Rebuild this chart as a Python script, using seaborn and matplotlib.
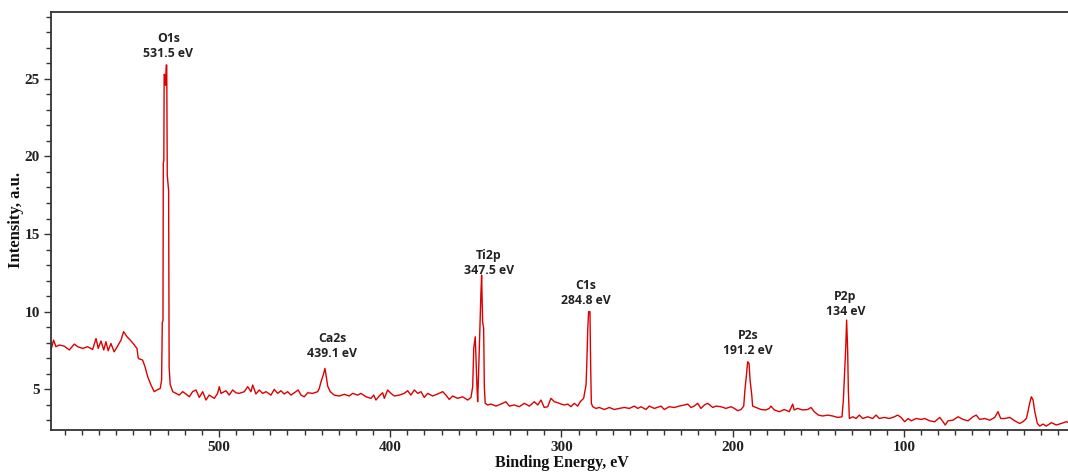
import matplotlib
matplotlib.use("Agg")
import matplotlib.pyplot as plt
from matplotlib.ticker import MultipleLocator
import seaborn as sns
import pandas as pd

# ---- data (binding energy in eV, intensity in a.u.) ----
energy = [
    598.1, 596.6, 595.2, 593.3, 590.4, 587.4, 584.5, 582.5, 579.6, 576.7, 573.8, 571.8,
    570.5, 568.9, 567.3, 566.0, 564.7, 563.1, 561.2, 559.2, 557.2, 555.7, 553.7, 551.8,
    549.8, 547.9, 547.1, 544.6, 543.2, 541.6, 539.7, 537.8, 536.2, 534.3, 533.5,
    533.1, 532.7, 532.5, 532.2, 532.0, 531.5, 531.2, 530.8, 530.5, 530.2, 529.4, 529.1, 528.5,
    527.0, 525.1, 523.2, 521.2, 519.3, 517.3, 515.4, 513.4, 511.5, 509.5, 507.6, 505.7,
    502.7, 500.8, 499.8, 498.8,
    495.9, 494.0, 492.0, 490.1, 488.1, 485.2, 483.2, 481.3, 480.3, 478.4, 476.5, 474.5,
    472.5, 469.6, 467.7, 465.7, 463.8, 461.9, 459.9, 457.9, 456.0, 453.7, 452.1, 450.2,
    448.2, 445.3, 442.3, 441.4, 440.4, 439.1, 438.1, 437.3, 436.5, 435.0, 432.7, 429.7,
    426.8, 423.9, 421.9, 419.0, 417.1, 414.1, 411.2, 409.6, 408.3, 406.4, 404.4, 403.4,
    401.5, 399.5,
    397.6, 394.7, 391.8, 389.8, 387.9, 385.9, 383.9, 382.0, 380.1, 378.1, 375.2, 372.3,
    369.3, 367.4, 365.5, 363.5, 360.6, 357.7, 354.7, 352.8, 351.8, 351.2, 350.3, 349.3,
    348.9, 348.3, 347.5, 347.0, 346.6, 346.0, 345.4, 345.0, 344.5, 343.1, 341.1, 338.2,
    335.3, 332.4, 330.4, 327.5, 324.6, 321.7, 318.7, 315.8, 313.8, 311.9, 310.0, 308.0,
    306.1, 304.1, 302.2, 300.2,
    298.3, 296.3, 294.4, 292.5, 290.5, 289.0, 287.0, 285.6, 285.2, 284.6, 284.1, 283.3,
    282.9, 282.5, 281.7, 279.8, 277.9, 274.9, 272.0, 269.1, 266.2, 263.3, 260.3, 257.4,
    255.4, 253.5, 250.6, 248.7, 245.7, 241.8, 239.9, 237.0, 234.1, 231.1, 228.2, 226.2,
    224.3, 222.4, 220.4, 218.5, 216.5, 214.5, 211.6, 209.7, 206.8, 203.9, 200.9,
    199.0, 197.0, 195.1, 193.5, 192.8, 192.0, 191.2, 190.4, 189.8, 188.8, 188.3, 186.3,
    183.4, 180.5, 178.6, 177.6, 175.6, 172.7, 169.8, 166.9, 164.9, 164.0, 162.0, 159.1,
    156.1, 154.2, 152.3, 149.9, 147.4, 144.5, 141.5, 138.6, 136.1, 135.3, 134.5, 133.9,
    133.4, 132.8, 132.4, 131.8, 129.8, 127.9, 126.0, 124.0, 121.1, 118.2, 116.2, 114.3,
    111.4, 108.5, 105.5, 103.6, 101.6,
    99.5, 97.5, 95.6, 92.7, 89.8, 87.8, 84.9, 82.0, 79.0, 77.1, 75.8, 74.2,
    71.3, 68.3, 65.4, 62.5, 59.6, 57.7, 55.7, 52.7, 49.8, 46.9, 45.0, 43.4,
    41.1, 38.1, 35.2, 32.3, 30.4, 28.4, 27.5, 26.5, 25.5, 24.5, 23.5, 22.0,
    20.6, 18.7, 16.8, 13.8, 10.9, 8.0, 5.1, 4.1,
]
intensity = [
    7.52, 8.16, 7.73, 7.84, 7.77, 7.52, 7.90, 7.73, 7.62, 7.73, 7.55, 8.26,
    7.62, 8.10, 7.52, 8.05, 7.47, 7.94, 7.40, 7.77, 8.16, 8.70, 8.37, 8.16,
    7.90, 7.62, 6.97, 6.87, 6.44, 5.79, 5.26, 4.83, 4.94, 5.04, 5.58,
    9.30, 9.40, 19.6, 19.7, 25.3, 25.2, 24.6, 25.9, 25.9, 18.8, 17.8, 6.40, 5.30,
    4.83, 4.72, 4.61, 4.83, 4.68, 4.50, 4.83, 4.94, 4.46, 4.83, 4.29, 4.61,
    4.40, 4.72, 5.15, 4.72,
    4.89, 4.61, 4.94, 4.76, 4.72, 4.83, 5.15, 4.83, 5.26, 4.68, 4.94, 4.72,
    4.83, 4.61, 4.98, 4.72, 4.89, 4.68, 4.83, 4.61, 4.76, 4.94, 4.61, 4.50,
    4.76, 4.72, 4.83, 5.04, 5.47, 5.90, 6.33, 5.79, 5.19, 4.83, 4.61, 4.55,
    4.66, 4.55, 4.72, 4.61, 4.72, 4.50, 4.40, 4.61, 4.29, 4.55, 4.76, 4.40,
    4.94, 4.72,
    4.55, 4.61, 4.72, 4.89, 4.61, 4.94, 4.72, 4.83, 4.46, 4.72, 4.55, 4.68,
    4.83, 4.61, 4.33, 4.55, 4.40, 4.50, 4.29, 4.46, 5.15, 7.62, 8.37, 5.15,
    4.18, 6.23, 9.34, 11.17, 12.35, 9.34, 8.91, 5.15, 4.08, 3.97, 4.03, 3.90,
    4.03, 4.18, 3.90, 3.97, 3.86, 4.08, 3.90, 4.18, 3.97, 4.29, 3.81, 3.86,
    4.40, 4.18, 4.12, 4.03,
    3.97, 4.03, 3.86, 4.08, 3.90, 4.18, 4.40, 5.26, 6.44, 8.81, 9.99, 9.99,
    6.44, 4.08, 3.86, 3.75, 3.81, 3.68, 3.81, 3.68, 3.75, 3.81, 3.75, 3.90,
    3.75, 3.86, 3.68, 3.90, 3.75, 3.90, 3.68, 3.86, 3.81, 3.90, 3.97, 4.03,
    3.81, 3.90, 4.08, 3.75, 3.97, 4.08, 3.81, 3.90, 3.86, 3.75, 3.86,
    3.75, 3.60, 3.68, 3.90, 4.94, 5.79, 6.76, 6.66, 5.58, 4.61, 3.90, 3.81,
    3.68, 3.65, 3.75, 3.90, 3.65, 3.54, 3.68, 3.54, 4.03, 3.65, 3.75, 3.65,
    3.68, 3.81, 3.54, 3.32, 3.26, 3.32, 3.26, 3.17, 3.21, 4.29, 6.23, 7.73,
    9.45, 7.52, 4.94, 3.10, 3.21, 3.10, 3.32, 3.10, 3.21, 3.10, 3.32, 3.10,
    3.17, 3.10, 3.21, 3.32, 3.17,
    2.89, 3.10, 2.95, 3.10, 3.04, 3.10, 2.95, 2.89, 3.17, 2.89, 2.68, 2.95,
    2.99, 3.21, 3.04, 2.95, 3.21, 3.32, 3.04, 3.10, 2.99, 3.17, 3.54, 3.10,
    3.10, 3.17, 2.95, 2.78, 2.89, 3.10, 3.54, 4.08, 4.50, 4.29, 3.54, 2.78,
    2.61, 2.74, 2.61, 2.83, 2.68, 2.78, 2.89, 2.85,
]

# peak annotations: label, text-centre energy, text-centre intensity
peak_labels = ["O1s\n531.5 eV", "Ca2s\n439.1 eV", "Ti2p\n347.5 eV",
               "C1s\n284.8 eV", "P2s\n191.2 eV", "P2p\n134 eV"]
label_x = [529.5, 434.0, 342.3, 285.6, 191.0, 134.1]
label_y = [27.10, 7.77, 13.16, 11.19, 7.99, 10.50]

x_ticks = [100, 200, 300, 400, 500]
y_ticks = [5, 10, 15, 20, 25]

df = pd.DataFrame({"energy": energy, "intensity": intensity})

sns.set_theme(style="ticks")
plt.rcParams["font.family"] = ["Liberation Serif", "DejaVu Serif"]

fig = plt.figure(figsize=(10.68, 4.72), dpi=100)
ax = fig.add_axes([51 / 1068, (472 - 429.5) / 472, 1017 / 1068, 417.5 / 472])

sns.lineplot(data=df, x="energy", y="intensity", ax=ax, color="#dd0000",
             linewidth=1.0, estimator=None, sort=False)

ax.set_xlim(598.1, 4.1)
ax.set_ylim(2.39, 29.32)

ax.set_xticks(x_ticks)
ax.set_xticklabels([str(v) for v in x_ticks])
ax.set_yticks(y_ticks)
ax.set_yticklabels([str(v) for v in y_ticks])
ax.xaxis.set_minor_locator(MultipleLocator(10))
ax.yaxis.set_minor_locator(MultipleLocator(1))

ax.tick_params(axis="both", which="major", direction="out", length=5, width=1.0,
               color="#333333", labelsize=11, pad=3)
ax.tick_params(axis="both", which="minor", direction="out", length=3.5, width=1.0,
               color="#333333")
for lab in ax.get_xticklabels() + ax.get_yticklabels():
    lab.set_fontweight("bold")
    lab.set_family(["Liberation Serif", "DejaVu Serif"])
    lab.set_color("#222222")

for side in ["left", "bottom", "top"]:
    ax.spines[side].set_color("#333333")
    ax.spines[side].set_linewidth(1.3)
ax.spines["right"].set_visible(False)

ax.set_xlabel("Binding Energy, eV", fontsize=11.5, fontweight="bold",
              family=["Liberation Serif", "DejaVu Serif"], color="#111111")
ax.set_ylabel("Intensity, a.u.", fontsize=12, fontweight="bold",
              family=["Liberation Serif", "DejaVu Serif"], color="#111111")
ax.xaxis.set_label_coords(0.502, -0.062)
ax.yaxis.set_label_coords(-0.0265, 0.502)

for txt, tx, ty in zip(peak_labels, label_x, label_y):
    ax.text(tx, ty, txt, ha="center", va="center", fontsize=8.8,
            family=["Open Sans", "DejaVu Sans"], fontweight="bold",
            color="#222222", linespacing=1.2)

fig.savefig("out.png", dpi=100)
